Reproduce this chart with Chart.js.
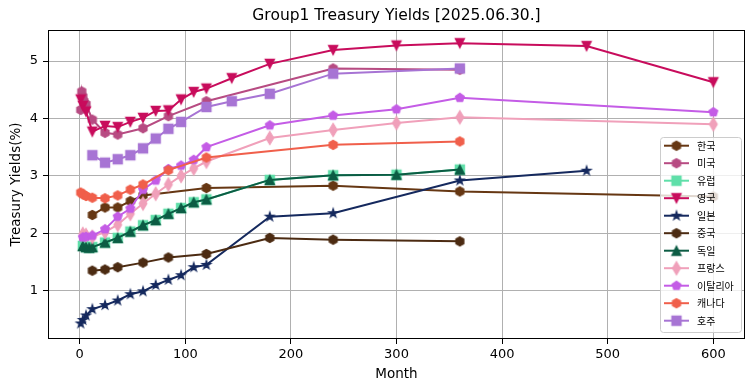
<!DOCTYPE html>
<html>
<head>
<meta charset="utf-8">
<script src="https://cdn.jsdelivr.net/npm/chart.js@4.4.1/dist/chart.umd.min.js"></script>
<style>
html, body { margin: 0; padding: 0; background: #fff; }
#wrap { width: 755px; height: 391px; position: relative; }
</style>
</head>
<body>
<div id="wrap"><canvas id="chart"></canvas></div>
<script>
// series names (legend order)
const seriesNames = ["한국", "미국", "유럽", "영국", "일본", "중국", "독일", "프랑스", "이탈리아", "캐나다", "호주"];

// maturities in months and yields in %
const krMonths = [12, 24, 36, 48, 60, 120, 240, 360, 600];
const krYields = [2.32, 2.45, 2.45, 2.56, 2.66, 2.79, 2.83, 2.73, 2.64];

const usMonths = [1, 2, 3, 4, 6, 12, 24, 36, 60, 84, 120, 240, 360];
const usYields = [4.15, 4.47, 4.38, 4.3, 4.25, 3.98, 3.75, 3.72, 3.83, 4.04, 4.3, 4.87, 4.85];

const euMonths = [3, 6, 9, 12, 24, 36, 48, 60, 72, 84, 96, 108, 120, 180, 240, 300, 360];
const euYields = [1.78, 1.76, 1.75, 1.76, 1.84, 1.92, 2.03, 2.14, 2.23, 2.34, 2.44, 2.54, 2.59, 2.93, 3.01, 3.02, 3.11];

const ukMonths = [1, 3, 6, 12, 24, 36, 48, 60, 72, 84, 96, 108, 120, 144, 180, 240, 300, 360, 480, 600];
const ukYields = [4.33, 4.22, 4.12, 3.77, 3.87, 3.85, 3.94, 4.01, 4.13, 4.14, 4.33, 4.46, 4.52, 4.70, 4.95, 5.19, 5.27, 5.31, 5.26, 4.63];

const jpMonths = [1, 3, 6, 12, 24, 36, 48, 60, 72, 84, 96, 108, 120, 180, 240, 360, 480];
const jpYields = [0.43, 0.49, 0.57, 0.68, 0.75, 0.83, 0.94, 0.99, 1.10, 1.19, 1.27, 1.41, 1.45, 2.29, 2.35, 2.92, 3.09];

const cnMonths = [12, 24, 36, 60, 84, 120, 180, 240, 360];
const cnYields = [1.35, 1.37, 1.41, 1.49, 1.58, 1.64, 1.92, 1.89, 1.86];

const deMonths = [3, 6, 9, 12, 24, 36, 48, 60, 72, 84, 96, 108, 120, 180, 240, 300, 360];
const deYields = [1.78, 1.76, 1.75, 1.76, 1.84, 1.92, 2.03, 2.14, 2.23, 2.34, 2.44, 2.54, 2.59, 2.93, 3.01, 3.02, 3.11];

const frMonths = [3, 6, 12, 24, 36, 48, 60, 72, 84, 96, 108, 120, 180, 240, 300, 360, 600];
const frYields = [1.99, 1.97, 1.94, 2.02, 2.15, 2.34, 2.52, 2.69, 2.85, 3.0, 3.13, 3.25, 3.66, 3.80, 3.92, 4.02, 3.90];

const itMonths = [3, 6, 12, 24, 36, 48, 60, 72, 84, 96, 108, 120, 180, 240, 300, 360, 600];
const itYields = [1.93, 1.94, 1.96, 2.07, 2.29, 2.43, 2.76, 2.92, 3.12, 3.18, 3.28, 3.50, 3.88, 4.05, 4.16, 4.36, 4.11];

const caMonths = [1, 3, 6, 12, 24, 36, 48, 60, 84, 120, 240, 360];
const caYields = [2.71, 2.68, 2.65, 2.62, 2.61, 2.66, 2.76, 2.85, 3.1, 3.32, 3.54, 3.60];

const auMonths = [12, 24, 36, 48, 60, 72, 84, 96, 120, 144, 180, 240, 360];
const auYields = [3.36, 3.23, 3.29, 3.36, 3.48, 3.65, 3.82, 3.94, 4.2, 4.3, 4.43, 4.78, 4.87];

const allMonths = [krMonths, usMonths, euMonths, ukMonths, jpMonths, cnMonths, deMonths, frMonths, itMonths, caMonths, auMonths];
const allYields = [krYields, usYields, euYields, ukYields, jpYields, cnYields, deYields, frYields, itYields, caYields, auYields];

const colors = ["#663713", "#b74b82", "#5fdfa9", "#c80c5c", "#15295e", "#4c2b12", "#0c5c44", "#f0a0ba", "#c45ce6", "#f05f4b", "#a774d4"];
const markers = ["h", "h", "s", "v", "*", "h", "^", "d", "p", "h", "s"];

const xTicks = [0, 100, 200, 300, 400, 500, 600];
const yTicks = [1, 2, 3, 4, 5];

const MS = 9.2;

function polygon(g, n, r, startDeg) {
    for (let k = 0; k < n; k++) {
        const a = (startDeg + k * 360 / n) * Math.PI / 180;
        const px = r * Math.cos(a), py = r * Math.sin(a);
        if (k === 0) g.moveTo(px, py); else g.lineTo(px, py);
    }
    g.closePath();
}

function makeMarker(kind, color) {
    const s = 20;
    const c = document.createElement("canvas");
    c.width = s; c.height = s;
    const g = c.getContext("2d");
    g.translate(s / 2, s / 2);
    g.fillStyle = color;
    g.strokeStyle = color;
    g.lineWidth = 1.2;
    g.lineJoin = "miter";
    const r = MS / 2;
    g.beginPath();
    if (kind === "h") {
        polygon(g, 6, r, -90);
    } else if (kind === "p") {
        polygon(g, 5, r, -90);
    } else if (kind === "s") {
        g.rect(-r, -r, 2 * r, 2 * r);
    } else if (kind === "^") {
        g.moveTo(0, -r); g.lineTo(r, r); g.lineTo(-r, r); g.closePath();
    } else if (kind === "v") {
        g.moveTo(0, r); g.lineTo(r, -r); g.lineTo(-r, -r); g.closePath();
    } else if (kind === "d") {
        const h = MS * 0.707, w = MS * 0.424;
        g.moveTo(0, -h); g.lineTo(w, 0); g.lineTo(0, h); g.lineTo(-w, 0); g.closePath();
    } else if (kind === "*") {
        for (let k = 0; k < 10; k++) {
            const rr = k % 2 === 0 ? r : r * 0.382;
            const a = (-90 + k * 36) * Math.PI / 180;
            if (k === 0) g.moveTo(rr * Math.cos(a), rr * Math.sin(a));
            else g.lineTo(rr * Math.cos(a), rr * Math.sin(a));
        }
        g.closePath();
    }
    g.fill();
    g.stroke();
    return c;
}

const markerImgs = colors.map((c, i) => makeMarker(markers[i], c));

const datasets = seriesNames.map((name, i) => ({
    label: name,
    data: allMonths[i].map((m, j) => ({ x: m, y: allYields[i][j] })),
    borderColor: colors[i],
    backgroundColor: colors[i],
    borderWidth: 2,
    pointStyle: markerImgs[i],
    pointRadius: 5,
    pointHoverRadius: 5,
    tension: 0,
    fill: false,
    order: seriesNames.length - i
}));

const framePlugin = {
    id: "frame",
    afterDatasetsDraw(chart) {
        const { ctx, chartArea: a } = chart;
        ctx.save();
        ctx.strokeStyle = "#000";
        ctx.lineWidth = 1;
        ctx.strokeRect(Math.round(a.left) + 0.5, Math.round(a.top) + 0.5,
            Math.round(a.right - a.left) - 1, Math.round(a.bottom - a.top) - 1);
        ctx.restore();
    },
    afterDraw(chart) {
        const { ctx, chartArea: a } = chart;
        ctx.save();
        // title
        ctx.fillStyle = "#000";
        ctx.font = "15.5px 'DejaVu Sans'";
        ctx.textAlign = "center";
        ctx.textBaseline = "middle";
        ctx.fillText("Group1 Treasury Yields [2025.06.30.]", (a.left + a.right) / 2, 16);

        // legend
        const bx = 660, by = 137, bw = 81, bh = 195;
        ctx.beginPath();
        ctx.roundRect(bx + 0.5, by + 0.5, bw, bh, 3);
        ctx.fillStyle = "rgba(255,255,255,0.8)";
        ctx.fill();
        ctx.strokeStyle = "#cccccc";
        ctx.lineWidth = 1;
        ctx.stroke();
        ctx.font = "10px 'Noto Sans CJK KR'";
        ctx.textAlign = "left";
        seriesNames.forEach((name, i) => {
            const y = 145.7 + i * 17.5;
            ctx.strokeStyle = colors[i];
            ctx.lineWidth = 2;
            ctx.beginPath();
            ctx.moveTo(664, y);
            ctx.lineTo(689, y);
            ctx.stroke();
            const img = markerImgs[i];
            ctx.drawImage(img, 676.5 - img.width / 2, y - img.height / 2);
            ctx.fillStyle = "#000";
            ctx.fillText(name, 697, y + 0.5);
        });
        ctx.restore();
    }
};

const ctx = document.getElementById("chart").getContext("2d");
const chart = new Chart(ctx, {
    type: "line",
    data: { datasets: datasets },
    options: {
        responsive: true,
        maintainAspectRatio: false,
        animation: false,
        devicePixelRatio: 1,
        layout: { padding: { top: 30, right: 10, left: 0, bottom: 0 } },
        plugins: {
            legend: { display: false },
            title: { display: false },
            tooltip: { enabled: false }
        },
        scales: {
            x: {
                type: "linear",
                min: -30,
                max: 630,
                afterFit: (s) => { s.height = 52; },
                afterBuildTicks: (s) => { s.ticks = xTicks.map(v => ({ value: v })); },
                ticks: {
                    includeBounds: false,
                    color: "#000",
                    font: { family: "DejaVu Sans", size: 13 },
                    padding: 3,
                    maxRotation: 0
                },
                grid: { color: "#b0b0b0", lineWidth: 1, tickColor: "#000", tickLength: 5 },
                border: { display: false },
                title: {
                    display: true,
                    text: "Month",
                    color: "#000",
                    font: { family: "DejaVu Sans", size: 13.5 },
                    padding: { top: 9, bottom: 8 }
                }
            },
            y: {
                min: 0.16,
                max: 5.54,
                afterFit: (s) => { s.width = 48; },
                afterBuildTicks: (s) => { s.ticks = yTicks.map(v => ({ value: v })); },
                ticks: {
                    includeBounds: false,
                    color: "#000",
                    font: { family: "DejaVu Sans", size: 13 },
                    padding: 5
                },
                grid: { color: "#b0b0b0", lineWidth: 1, tickColor: "#000", tickLength: 5 },
                border: { display: false },
                title: {
                    display: true,
                    text: "Treasury Yields(%)",
                    color: "#000",
                    font: { family: "DejaVu Sans", size: 13.5 },
                    padding: { top: 8, bottom: 8 }
                }
            }
        }
    },
    plugins: [framePlugin]
});
</script>
</body>
</html>
